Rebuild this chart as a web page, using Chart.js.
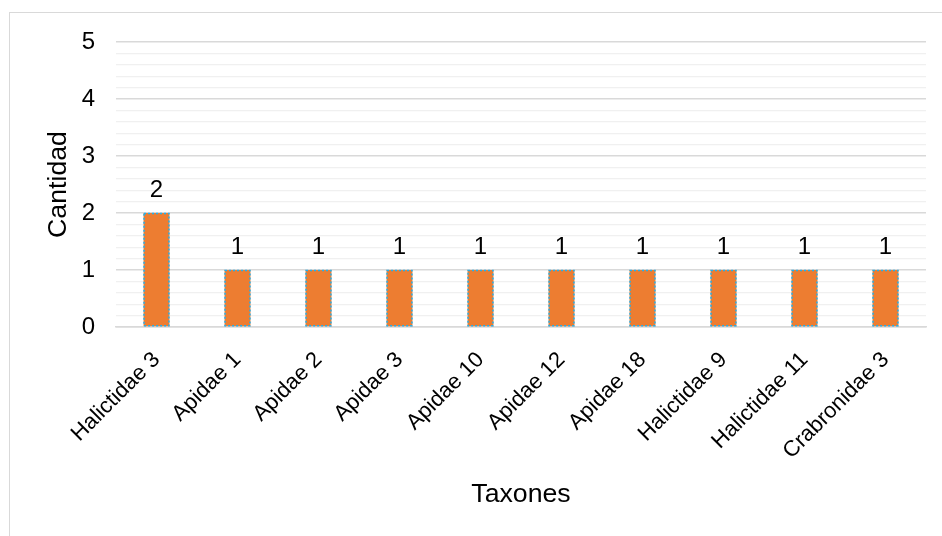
<!DOCTYPE html>
<html>
<head>
<meta charset="utf-8">
<script src="https://cdn.jsdelivr.net/npm/chart.js@4"></script>
<style>
  html, body { margin: 0; padding: 0; background: #fff; overflow: hidden; }
  #wrap { position: relative; width: 942px; height: 536px; }
  #frame { position: absolute; left: 9px; top: 12px; width: 1000px; height: 1000px;
           border: 1.5px solid #d9d9d9; pointer-events: none; }
</style>
</head>
<body>
<div id="wrap">
  <canvas id="chart" width="942" height="536"></canvas>
  <div id="frame"></div>
</div>
<script>
/* Taxones vs Cantidad – simple column chart */
const TAXA   = ['Halictidae 3','Apidae 1','Apidae 2','Apidae 3','Apidae 10','Apidae 12','Apidae 18','Halictidae 9','Halictidae 11','Crabronidae 3'];
const COUNTS = [2, 1, 1, 1, 1, 1, 1, 1, 1, 1];
const Y_MAX  = 5;

const FONT = '"Liberation Sans", Arial, sans-serif';

// value labels above bars + dotted bar outline
const barExtras = {
  id: 'barExtras',
  afterDatasetsDraw(chart) {
    const { ctx } = chart;
    const meta = chart.getDatasetMeta(0);
    ctx.save();
    meta.data.forEach((bar, i) => {
      const half = bar.width / 2;
      ctx.strokeStyle = '#1fb0ef';
      ctx.lineWidth = 1.5;
      ctx.setLineDash([2, 2]);
      ctx.strokeRect(bar.x - half + 0.5, bar.y + 0.5, bar.width - 1, bar.base - bar.y - 1);
      ctx.setLineDash([]);
      ctx.fillStyle = '#000';
      ctx.font = '24px ' + FONT;
      ctx.textAlign = 'center';
      ctx.textBaseline = 'alphabetic';
      ctx.fillText(String(COUNTS[i]), bar.x, bar.y - 16);
    });
    ctx.restore();
  }
};

const isMajor = v => Math.abs(v - Math.round(v)) < 1e-6;

new Chart(document.getElementById('chart'), {
  type: 'bar',
  data: {
    labels: TAXA,
    datasets: [{
      data: COUNTS,
      backgroundColor: '#ED7D31',
      borderWidth: 0,
      barPercentage: 1,
      categoryPercentage: 0.32,
    }]
  },
  options: {
    responsive: false,
    animation: false,
    layout: { padding: { left: 10, top: 42, right: 16, bottom: 0 } },
    plugins: { legend: { display: false }, tooltip: { enabled: false } },
    scales: {
      x: {
        grid: { display: false },
        border: { color: '#d9d9d9', width: 1.5 },
        ticks: {
          color: '#000', font: { family: FONT, size: 22 },
          minRotation: 45, maxRotation: 45, padding: 12, autoSkip: false,
        },
        title: {
          display: true, text: 'Taxones', color: '#000',
          font: { family: FONT, size: 26.7 }, padding: { top: 0, bottom: 25 }
        },
        afterFit: axis => { axis.height = 209; }
      },
      y: {
        min: 0, max: Y_MAX,
        border: { display: false },
        grid: {
          drawTicks: false,
          color: c => isMajor(c.tick.value) ? '#d9d9d9' : '#f0f0f0',
          lineWidth: c => isMajor(c.tick.value) ? 1.5 : 1.2,
        },
        ticks: {
          stepSize: 0.2, autoSkip: false, padding: 21,
          color: '#000', font: { family: FONT, size: 24 },
          callback: v => isMajor(v) ? String(Math.round(v)) : ''
        },
        title: {
          display: true, text: 'Cantidad', color: '#000',
          font: { family: FONT, size: 26.7 }, padding: { top: 33, bottom: 0 }
        },
        afterFit: axis => { axis.width = 106; }
      }
    }
  },
  plugins: [barExtras]
});
</script>
</body>
</html>
